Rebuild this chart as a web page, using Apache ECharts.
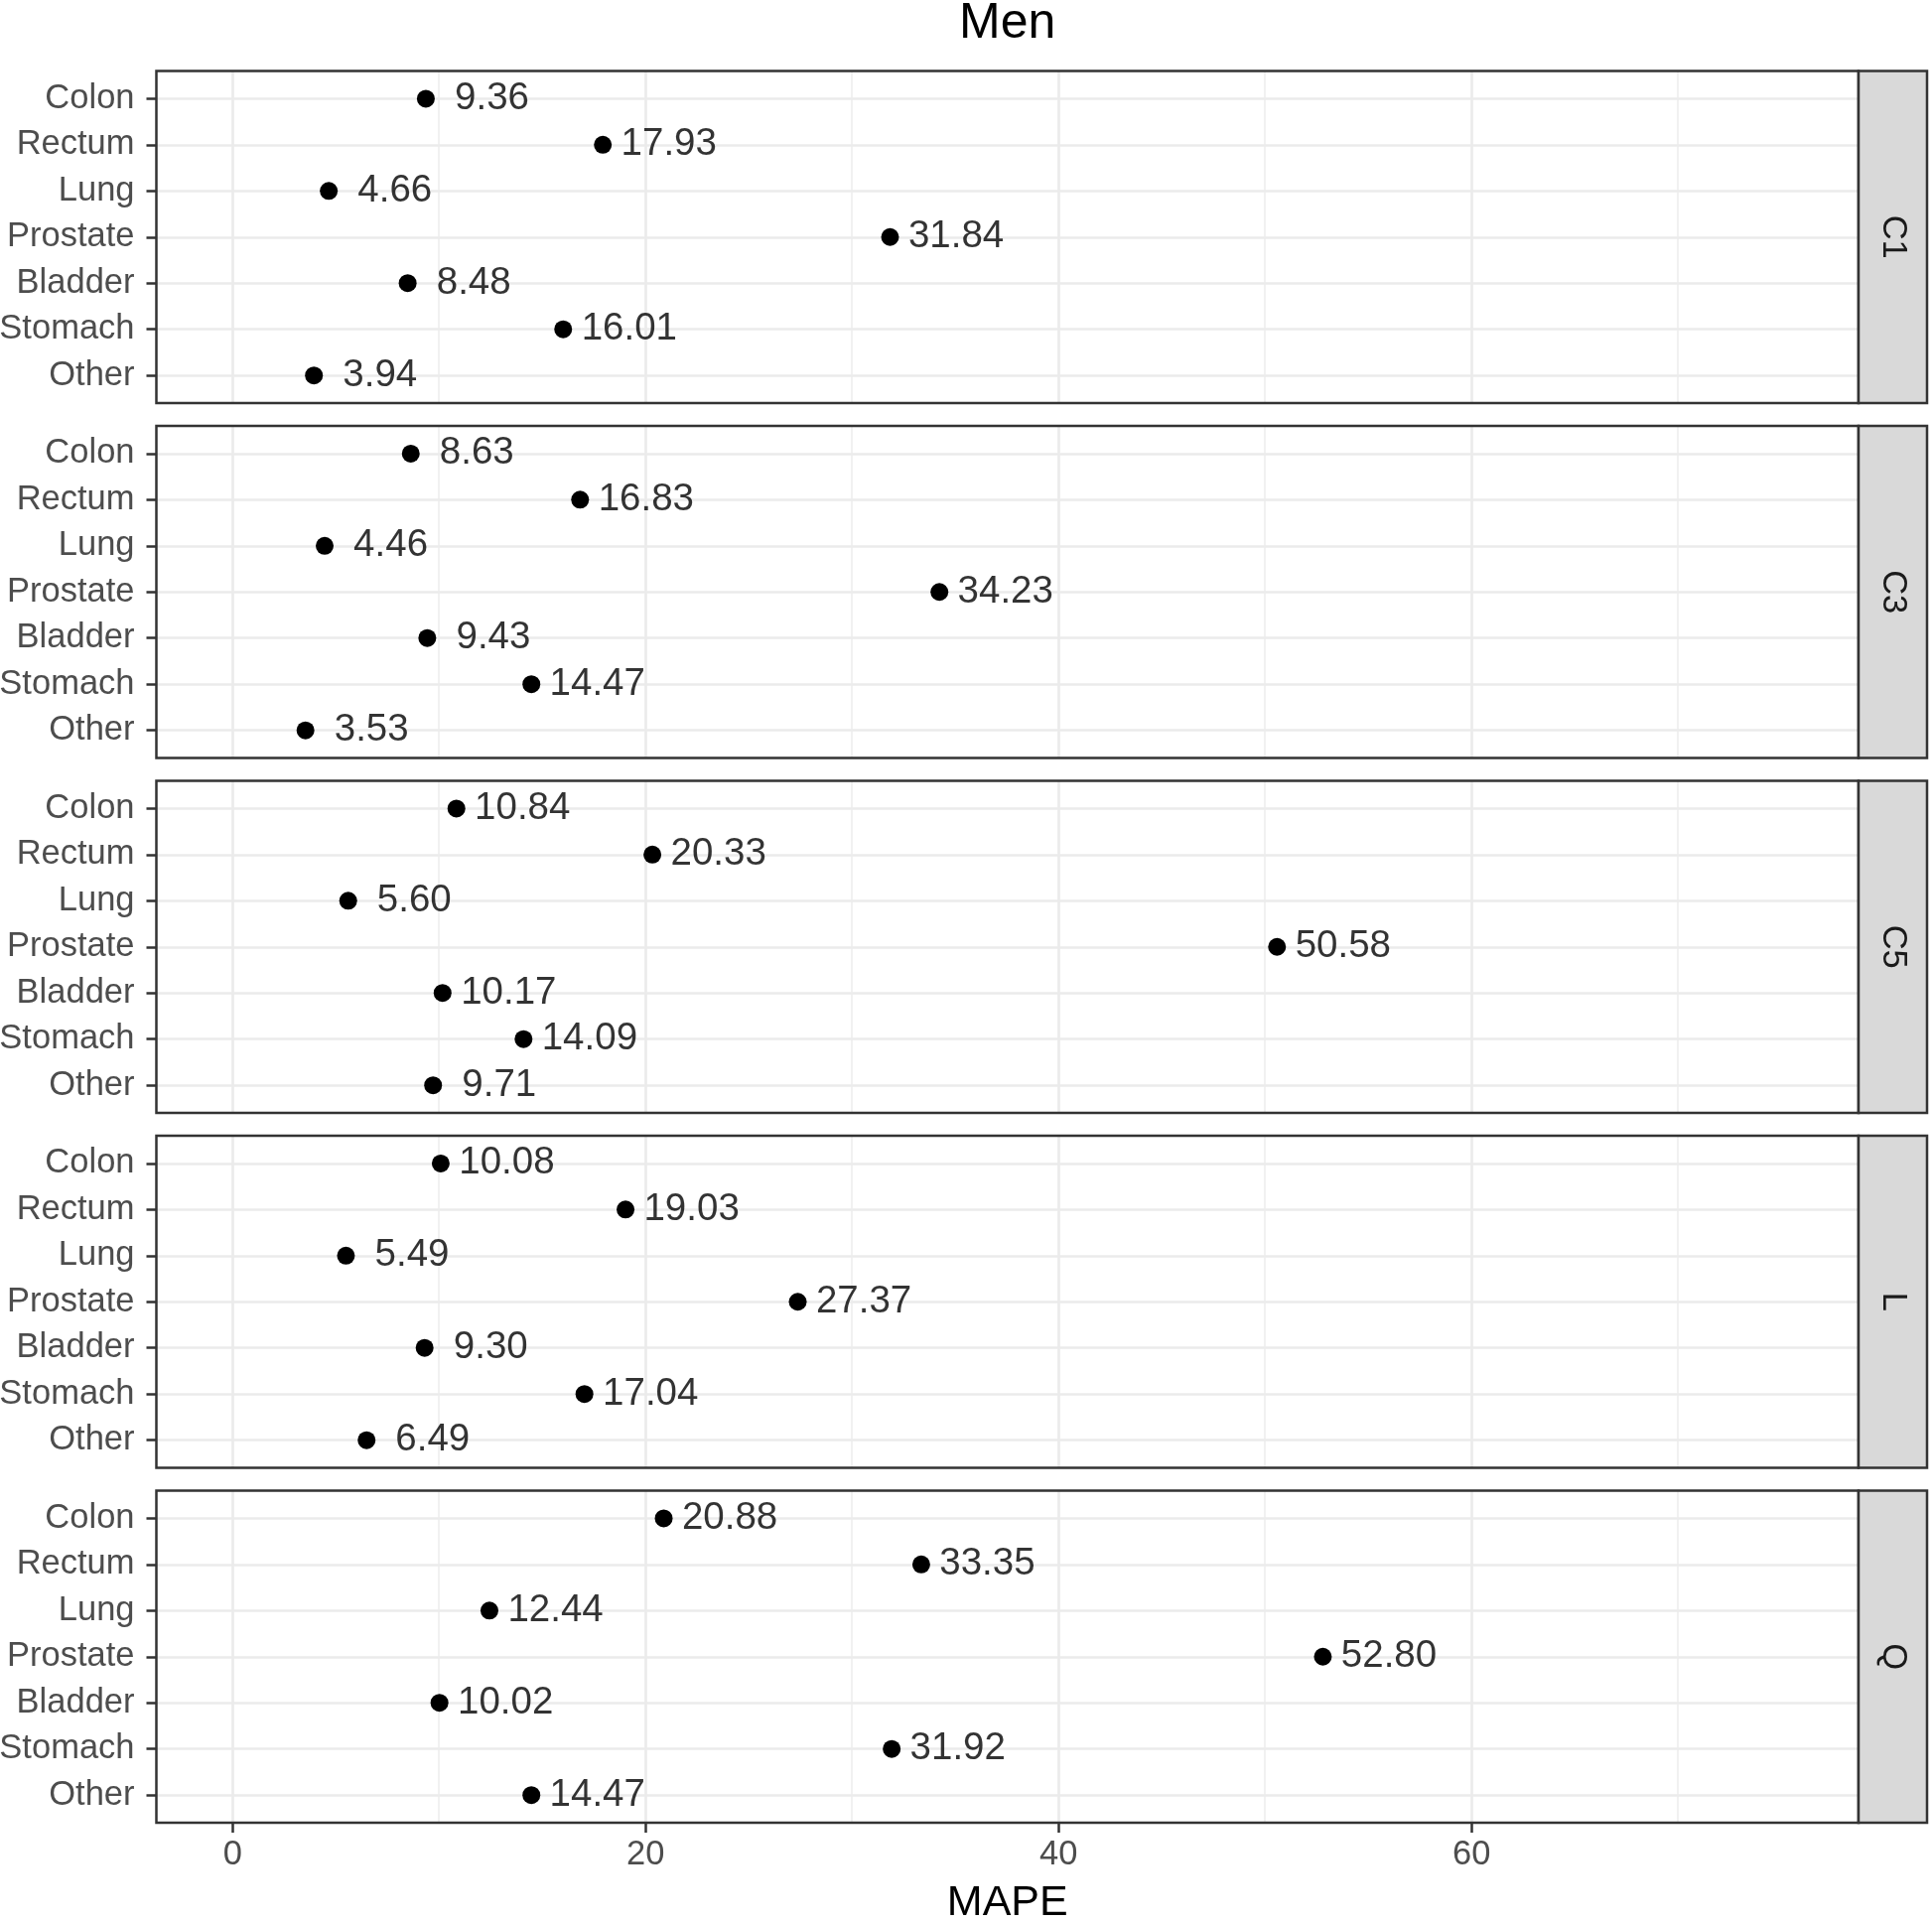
<!DOCTYPE html>
<html><head><meta charset="utf-8">
<script src="https://cdn.jsdelivr.net/npm/echarts@6/dist/echarts.min.js"></script>
<style>html,body{margin:0;padding:0;background:#fff}#c{width:1946px;height:1936px}</style>
</head><body><div id="c"></div>
<script>
// ---- data ----
const categories = ['Colon', 'Rectum', 'Lung', 'Prostate', 'Bladder', 'Stomach', 'Other'];
const panels = ['C1', 'C3', 'C5', 'L', 'Q'];
const valuesC1 = [9.36, 17.93, 4.66, 31.84, 8.48, 16.01, 3.94];
const valuesC3 = [8.63, 16.83, 4.46, 34.23, 9.43, 14.47, 3.53];
const valuesC5 = [10.84, 20.33, 5.60, 50.58, 10.17, 14.09, 9.71];
const valuesL  = [10.08, 19.03, 5.49, 27.37, 9.30, 17.04, 6.49];
const valuesQ  = [20.88, 33.35, 12.44, 52.80, 10.02, 31.92, 14.47];
const xMajorTicks = [0, 20, 40, 60];
const xMinorTicks = [10, 30, 50, 70];
const chartTitle = 'Men';
const xTitle = 'MAPE';
const labelNudge = 3.2;

// ---- layout ----
const panelValues = [valuesC1, valuesC3, valuesC5, valuesL, valuesQ];
const FONT = '"Liberation Sans", Arial, sans-serif';
const L = 157.5, R = 1872, TOP0 = 71.5, STEP = 357.5, H = 334.5, STRIP_W = 69;
const X_MIN = -3.69, X_MAX = 78.74;
const AXIS_FS = 34.5;
const yTickVals = categories.map((c, i) => i + 1);

const grid = [], xAxis = [], yAxis = [], series = [], graphic = [];
panels.forEach((p, i) => {
  const top = TOP0 + i * STEP;
  const last = i === panels.length - 1;
  grid.push({left: L, top: top, width: R - L, height: H, containLabel: false, outerBoundsMode: 'none'});
  xAxis.push({
    type: 'value', gridIndex: i, min: X_MIN, max: X_MAX, position: 'bottom',
    axisLine: {show: false, onZero: false},
    axisTick: {show: last, customValues: xMajorTicks, length: 10, lineStyle: {color: '#333333', width: 2.5}},
    axisLabel: {show: last, customValues: xMajorTicks, fontSize: AXIS_FS, color: '#4d4d4d', fontFamily: FONT, margin: 15},
    splitLine: {show: true, lineStyle: {color: '#ebebeb', width: 2.7}}
  });
  xAxis.push({
    type: 'value', gridIndex: i, min: X_MIN, max: X_MAX, position: 'top',
    axisLine: {show: false, onZero: false},
    axisTick: {show: false, customValues: xMinorTicks},
    axisLabel: {show: false, customValues: xMinorTicks},
    splitLine: {show: true, lineStyle: {color: '#ededed', width: 1.5}}
  });
  yAxis.push({
    type: 'value', gridIndex: i, min: 0.4, max: 7.6, inverse: true, position: 'left',
    axisLine: {show: false, onZero: false},
    axisTick: {show: true, customValues: yTickVals, length: 10, lineStyle: {color: '#333333', width: 2.5}},
    axisLabel: {customValues: yTickVals, fontSize: AXIS_FS, color: '#4d4d4d', fontFamily: FONT, margin: 22,
      formatter: v => categories[Math.round(v) - 1] || ''},
    splitLine: {show: true, lineStyle: {color: '#ebebeb', width: 2.7}}
  });
  const vals = panelValues[i];
  series.push({
    type: 'scatter', xAxisIndex: 2 * i, yAxisIndex: i, symbol: 'circle', symbolSize: 18,
    itemStyle: {color: '#000000', opacity: 1}, z: 3, silent: true,
    data: vals.map((v, k) => [v, k + 1])
  });
  series.push({
    type: 'scatter', xAxisIndex: 2 * i, yAxisIndex: i, symbolSize: 0, z: 4, silent: true,
    itemStyle: {color: 'rgba(0,0,0,0)'},
    label: {show: true, position: 'inside', fontSize: 38.5, color: '#000000', fontFamily: FONT,
      formatter: q => q.data[2].toFixed(2)},
    data: vals.map((v, k) => [v + labelNudge, k + 1, v])
  });
  graphic.push({type: 'rect', z: 100, shape: {x: L, y: top, width: R - L, height: H},
    style: {fill: null, stroke: '#333333', lineWidth: 2.5}});
  graphic.push({type: 'rect', z: 100, shape: {x: R, y: top, width: STRIP_W, height: H},
    style: {fill: '#d9d9d9', stroke: '#333333', lineWidth: 2.5}});
  graphic.push({type: 'text', z: 101, x: R + STRIP_W / 2, y: top + H / 2, rotation: -Math.PI / 2,
    style: {text: p, fontSize: AXIS_FS, fill: '#1a1a1a', fontFamily: FONT, align: 'center', verticalAlign: 'middle'}});
});
graphic.push({type: 'text', z: 101, x: (L + R) / 2, y: 24,
  style: {text: chartTitle, fontSize: 50, fill: '#000000', fontFamily: FONT, align: 'center', verticalAlign: 'middle'}});
graphic.push({type: 'text', z: 101, x: (L + R) / 2, y: 1917,
  style: {text: xTitle, fontSize: 43, fill: '#000000', fontFamily: FONT, align: 'center', verticalAlign: 'middle'}});

const chart = echarts.init(document.getElementById('c'), null, {renderer: 'canvas'});
chart.setOption({
  backgroundColor: '#ffffff',
  animation: false,
  grid, xAxis, yAxis, series, graphic
});
</script>
</body></html>
